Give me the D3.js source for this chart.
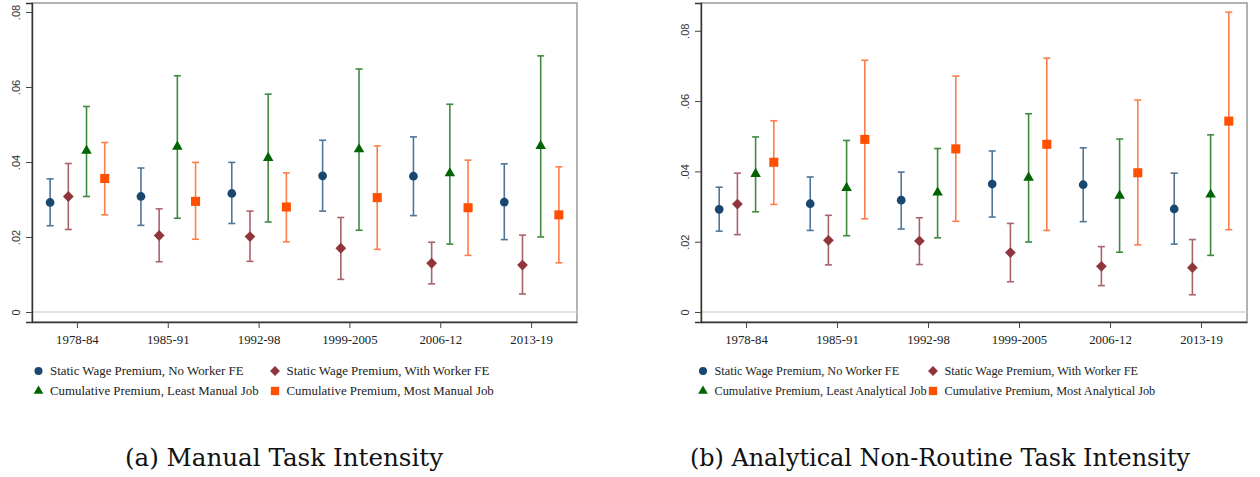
<!DOCTYPE html>
<html>
<head>
<meta charset="utf-8">
<script src="https://cdn.jsdelivr.net/npm/d3@7"></script>
<style>
  body { margin: 0; background: #fff; }
  svg { display: block; }
  .ytick { font-family: "Liberation Sans", Arial, sans-serif; font-size: 11px; fill: #333; }
  .xtick { font-family: "Liberation Serif", "Times New Roman", serif; font-size: 12.8px; fill: #222; }
  .legend { font-family: "Liberation Serif", "Times New Roman", serif; fill: #222; }
  .caption { font-family: "DejaVu Serif", "Liberation Serif", serif; fill: #111; }
</style>
</head>
<body>
<svg id="chart" width="1260" height="477"></svg>
<script>
const periods = ['1978-84', '1985-91', '1992-98', '1999-2005', '2006-12', '2013-19'];
const yTickValues = [0, 0.02, 0.04, 0.06, 0.08];

// [estimate, lower, upper] per period
const manualNoFE = [[0.0292, 0.0230, 0.0355], [0.0308, 0.0231, 0.0384], [0.0316, 0.0236, 0.0399], [0.0363, 0.0269, 0.0458], [0.0362, 0.0257, 0.0467], [0.0293, 0.0193, 0.0395]];
const manualWithFE = [[0.0308, 0.0220, 0.0396], [0.0204, 0.0134, 0.0275], [0.0201, 0.0135, 0.0269], [0.0170, 0.0087, 0.0252], [0.0130, 0.0075, 0.0186], [0.0125, 0.0048, 0.0205]];
const manualLeast = [[0.0430, 0.0308, 0.0548], [0.0441, 0.0250, 0.0630], [0.0411, 0.0240, 0.0581], [0.0434, 0.0218, 0.0648], [0.0370, 0.0181, 0.0554], [0.0443, 0.0200, 0.0683]];
const manualMost = [[0.0356, 0.0259, 0.0452], [0.0295, 0.0194, 0.0399], [0.0280, 0.0187, 0.0371], [0.0305, 0.0167, 0.0443], [0.0278, 0.0151, 0.0405], [0.0259, 0.0131, 0.0387]];

const analyticNoFE = [[0.0292, 0.0230, 0.0355], [0.0308, 0.0232, 0.0384], [0.0318, 0.0236, 0.0398], [0.0364, 0.0270, 0.0458], [0.0362, 0.0257, 0.0467], [0.0293, 0.0193, 0.0395]];
const analyticWithFE = [[0.0307, 0.0220, 0.0395], [0.0204, 0.0134, 0.0275], [0.0202, 0.0135, 0.0268], [0.0169, 0.0086, 0.0252], [0.0130, 0.0075, 0.0186], [0.0126, 0.0049, 0.0206]];
const analyticLeast = [[0.0393, 0.0285, 0.0498], [0.0353, 0.0217, 0.0488], [0.0340, 0.0211, 0.0465], [0.0382, 0.0199, 0.0564], [0.0331, 0.0170, 0.0492], [0.0334, 0.0161, 0.0504]];
const analyticMost = [[0.0426, 0.0306, 0.0544], [0.0491, 0.0265, 0.0716], [0.0464, 0.0258, 0.0671], [0.0477, 0.0232, 0.0722], [0.0396, 0.0191, 0.0603], [0.0543, 0.0234, 0.0853]];

const styles = [
  { key: 'nofe', shape: 'circle', size: 60, fill: '#1a476f', ci: '#4f7598' },
  { key: 'withfe', shape: 'diamond', size: 58, fill: '#90353b', ci: '#a9636a' },
  { key: 'least', shape: 'triangle', size: 48, fill: '#006400', ci: '#3f8a3f' },
  { key: 'most', shape: 'square', size: 82, fill: '#ff4f00', ci: '#ff7d4a' },
];

const panels = [
  {
    left: 32, right: 577, top: 3, bottom: 322, yMin: -0.00267, yMax: 0.0824,
    series: [manualNoFE, manualWithFE, manualLeast, manualMost],
    labels: ['Static Wage Premium, No Worker FE', 'Static Wage Premium, With Worker FE',
             'Cumulative Premium, Least Manual Job', 'Cumulative Premium, Most Manual Job'],
    legendX: [38.5, 275], legendSize: 12.9,
    caption: '(a) Manual Task Intensity', captionX: 284, captionSize: 24.6,
  },
  {
    left: 701, right: 1247, top: 3, bottom: 322, yMin: -0.00285, yMax: 0.0879,
    series: [analyticNoFE, analyticWithFE, analyticLeast, analyticMost],
    labels: ['Static Wage Premium, No Worker FE', 'Static Wage Premium, With Worker FE',
             'Cumulative Premium, Least Analytical Job', 'Cumulative Premium, Most Analytical Job'],
    legendX: [703, 933], legendSize: 12.3,
    caption: '(b) Analytical Non-Routine Task Intensity', captionX: 940, captionSize: 23.9,
  },
];

const svg = d3.select('#chart');

function symbolPath(style) {
  if (style.shape === 'circle') return d3.symbol(d3.symbolCircle, style.size)();
  if (style.shape === 'triangle') return d3.symbol(d3.symbolTriangle, style.size)();
  return d3.symbol(d3.symbolSquare, style.size)();
}

function drawMarker(g, style, x, y) {
  const p = g.append('path')
    .attr('d', symbolPath(style))
    .attr('fill', style.fill);
  if (style.shape === 'diamond') p.attr('transform', `translate(${x},${y}) rotate(45)`);
  else p.attr('transform', `translate(${x},${y})`);
}

function renderPanel(cfg) {
  const g = svg.append('g');
  const x = d3.scaleBand().domain(periods).range([cfg.left, cfg.right]);
  const inner = d3.scalePoint().domain(styles.map(s => s.key)).range([-27.3, 27.3]);
  const y = d3.scaleLinear().domain([cfg.yMin, cfg.yMax]).range([cfg.bottom, cfg.top]);

  // plot region outline
  g.append('rect')
    .attr('x', cfg.left).attr('y', cfg.top)
    .attr('width', cfg.right - cfg.left).attr('height', cfg.bottom - cfg.top)
    .attr('fill', 'none').attr('stroke', '#8a8a8a').attr('stroke-width', 1.3);

  // zero line
  g.append('line')
    .attr('x1', cfg.left).attr('x2', cfg.right)
    .attr('y1', y(0)).attr('y2', y(0))
    .attr('stroke', '#d8d8d8').attr('stroke-width', 1.6);

  // y axis
  const yAxis = g.append('g')
    .attr('transform', `translate(${cfg.left},0)`)
    .call(d3.axisLeft(y).tickValues(yTickValues).tickSize(6)
      .tickFormat(d => d === 0 ? '0' : d3.format('.2f')(d).replace(/^0/, '')));
  yAxis.attr('font-family', null).attr('font-size', null);
  yAxis.select('.domain').attr('stroke', '#333').attr('stroke-width', 1.4);
  yAxis.selectAll('.tick line').attr('stroke', '#444');
  yAxis.selectAll('.tick text')
    .attr('class', 'ytick')
    .attr('x', null).attr('dy', null)
    .attr('text-anchor', 'middle')
    .attr('transform', 'translate(-15,0) rotate(-90)')
    .attr('dominant-baseline', 'middle');

  // x axis
  const xAxis = g.append('g')
    .attr('transform', `translate(0,${cfg.bottom})`)
    .call(d3.axisBottom(x).tickSize(6).tickSizeOuter(0));
  xAxis.attr('font-family', null).attr('font-size', null);
  xAxis.select('.domain').attr('stroke', '#333').attr('stroke-width', 1.4);
  xAxis.selectAll('.tick line').attr('stroke', '#444');
  xAxis.selectAll('.tick text')
    .attr('class', 'xtick')
    .attr('y', 22).attr('dy', null);

  // estimates with confidence intervals
  styles.forEach((style, si) => {
    const data = cfg.series[si];
    data.forEach((d, i) => {
      const cx = x(periods[i]) + x.bandwidth() / 2 + inner(style.key);
      const [est, lo, hi] = d;
      g.append('line')
        .attr('x1', cx).attr('x2', cx).attr('y1', y(lo)).attr('y2', y(hi))
        .attr('stroke', style.ci).attr('stroke-width', 1.6);
      [lo, hi].forEach(v => {
        g.append('line')
          .attr('x1', cx - 3.5).attr('x2', cx + 3.5).attr('y1', y(v)).attr('y2', y(v))
          .attr('stroke', style.ci).attr('stroke-width', 1.6);
      });
      drawMarker(g, style, cx, y(est));
    });
  });

  // legend
  const rows = [372, 392];
  styles.forEach((style, si) => {
    const lx = cfg.legendX[si % 2];
    const ly = rows[Math.floor(si / 2)];
    const s = Object.assign({}, style, { size: style.size * 0.85 });
    drawMarker(g, s, lx, ly - 1);
    g.append('text')
      .attr('class', 'legend')
      .attr('font-size', cfg.legendSize)
      .attr('x', lx + 11.5).attr('y', ly)
      .attr('dominant-baseline', 'middle')
      .text(cfg.labels[si]);
  });

  // caption
  g.append('text')
    .attr('class', 'caption')
    .attr('font-size', cfg.captionSize)
    .attr('x', cfg.captionX).attr('y', 466)
    .attr('text-anchor', 'middle')
    .text(cfg.caption);
}

panels.forEach(renderPanel);
</script>
</body>
</html>
